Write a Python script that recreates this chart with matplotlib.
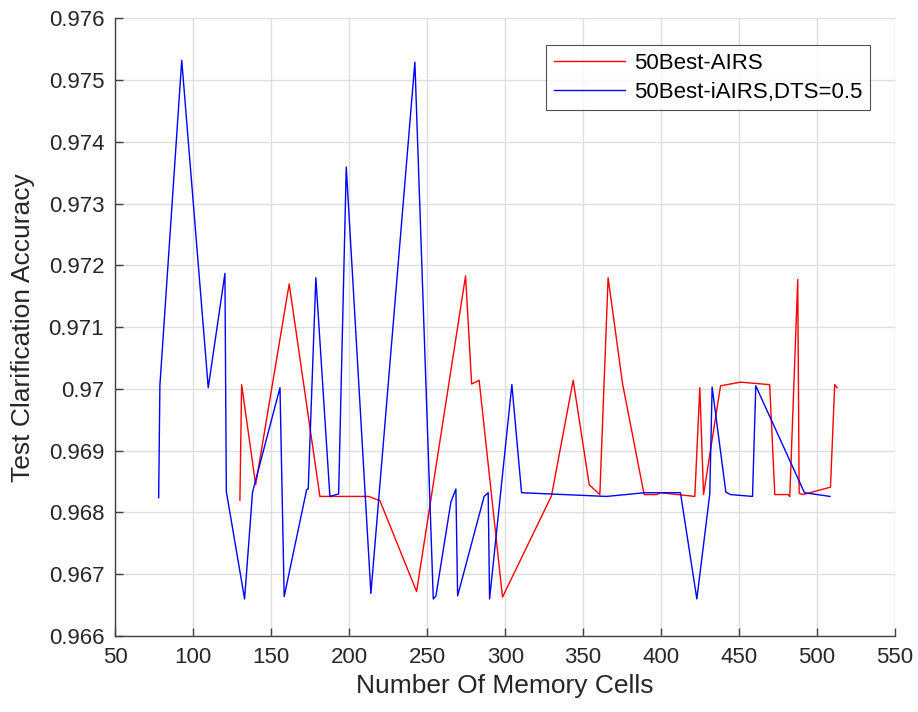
import matplotlib
matplotlib.use("Agg")
import matplotlib.pyplot as plt
from matplotlib.ticker import MultipleLocator, FuncFormatter

plt.rcParams["font.family"] = ["Liberation Sans", "DejaVu Sans"]

# 50Best-AIRS
airs_cells = [129.9, 131.0, 140.0, 161.5, 181.2, 212.6, 219.7, 243.2, 274.6,
              278.5, 283.3, 298.3, 329.7, 343.6, 353.9, 360.7, 366.0, 375.3,
              389.1, 397.4, 399.6, 421.6, 424.8, 427.2, 438.1, 450.9, 469.6,
              472.9, 481.4, 482.5, 487.6, 488.5, 491.0, 508.6, 511.3, 512.8]
airs_acc = [0.96820, 0.97007, 0.96845, 0.97170, 0.96826, 0.96826, 0.96819,
            0.96672, 0.97183, 0.97008, 0.97014, 0.96663, 0.96827, 0.97014,
            0.96845, 0.96829, 0.97180, 0.97008, 0.96829, 0.96829, 0.96832,
            0.96826, 0.97002, 0.96829, 0.97005, 0.97011, 0.97007, 0.96829,
            0.96829, 0.96826, 0.97177, 0.96831, 0.96829, 0.96841, 0.97007,
            0.97002]

# 50Best-iAIRS, DTS=0.5
iairs_cells = [77.8, 78.6, 92.6, 109.6, 120.3, 121.2, 132.9, 138.0, 155.6,
               158.3, 172.7, 173.7, 178.6, 187.6, 193.2, 198.1, 213.9, 242.1,
               253.9, 255.6, 265.2, 268.4, 269.5, 286.5, 289.1, 290.0, 304.3,
               310.5, 365.0, 389.5, 399.0, 412.4, 422.9, 431.2, 432.7, 441.5,
               444.5, 458.6, 460.7, 491.9, 508.3]
iairs_acc = [0.96824, 0.97006, 0.97532, 0.97002, 0.97187, 0.96834, 0.96660,
             0.96833, 0.97002, 0.96664, 0.96837, 0.96838, 0.97180, 0.96826,
             0.96830, 0.97359, 0.96669, 0.97529, 0.96660, 0.96665, 0.96817,
             0.96838, 0.96665, 0.96826, 0.96832, 0.96660, 0.97007, 0.96832,
             0.96826, 0.96832, 0.96832, 0.96832, 0.96660, 0.96830, 0.97003,
             0.96833, 0.96829, 0.96826, 0.97005, 0.96832, 0.96826]

text_c = "#262626"
axis_c = "#404040"
grid_c = "#dfdfdf"

fig = plt.figure(figsize=(9.18, 7.12), dpi=100, facecolor="white")
ax = fig.add_axes([0.1256, 0.1067, 0.8494, 0.8676])

ax.plot(airs_cells, airs_acc, color="#ff0000", linewidth=1.0, label="50Best-AIRS")
ax.plot(iairs_cells, iairs_acc, color="#0000ff", linewidth=1.0,
        label="50Best-iAIRS,DTS=0.5")

ax.set_xlim(50, 550)
ax.set_ylim(0.966, 0.976)
ax.xaxis.set_major_locator(MultipleLocator(50))
ax.yaxis.set_major_locator(MultipleLocator(0.001))
ax.yaxis.set_major_formatter(FuncFormatter(lambda v, _: f"{v:.3f}".rstrip("0").rstrip(".")))

ax.grid(True, color=grid_c, linewidth=1.0)
ax.set_axisbelow(True)
for side in ("top", "right"):
    ax.spines[side].set_visible(False)
for side in ("left", "bottom"):
    ax.spines[side].set_color(axis_c)
    ax.spines[side].set_linewidth(1.0)

ax.tick_params(axis="both", direction="in", length=6, width=1.0,
               colors=axis_c, labelcolor=text_c, labelsize=16)
ax.tick_params(axis="x", pad=8)
ax.tick_params(axis="y", pad=8)

ax.set_xlabel("Number Of Memory Cells", fontsize=19, color=text_c, labelpad=4)
ax.set_ylabel("Test Clarification Accuracy", fontsize=19, color=text_c, labelpad=10)

leg = ax.legend(loc="upper right", bbox_to_anchor=(0.9676, 0.9568),
                fontsize=16, frameon=True, fancybox=False,
                handlelength=3.2, handletextpad=0.4, borderpad=0.35,
                labelspacing=0.35, borderaxespad=0.0)
leg.get_frame().set_edgecolor("#262626")
leg.get_frame().set_linewidth(0.8)
for t in leg.get_texts():
    t.set_color("#000000")

fig.savefig("out.png", dpi=100, facecolor="white")
